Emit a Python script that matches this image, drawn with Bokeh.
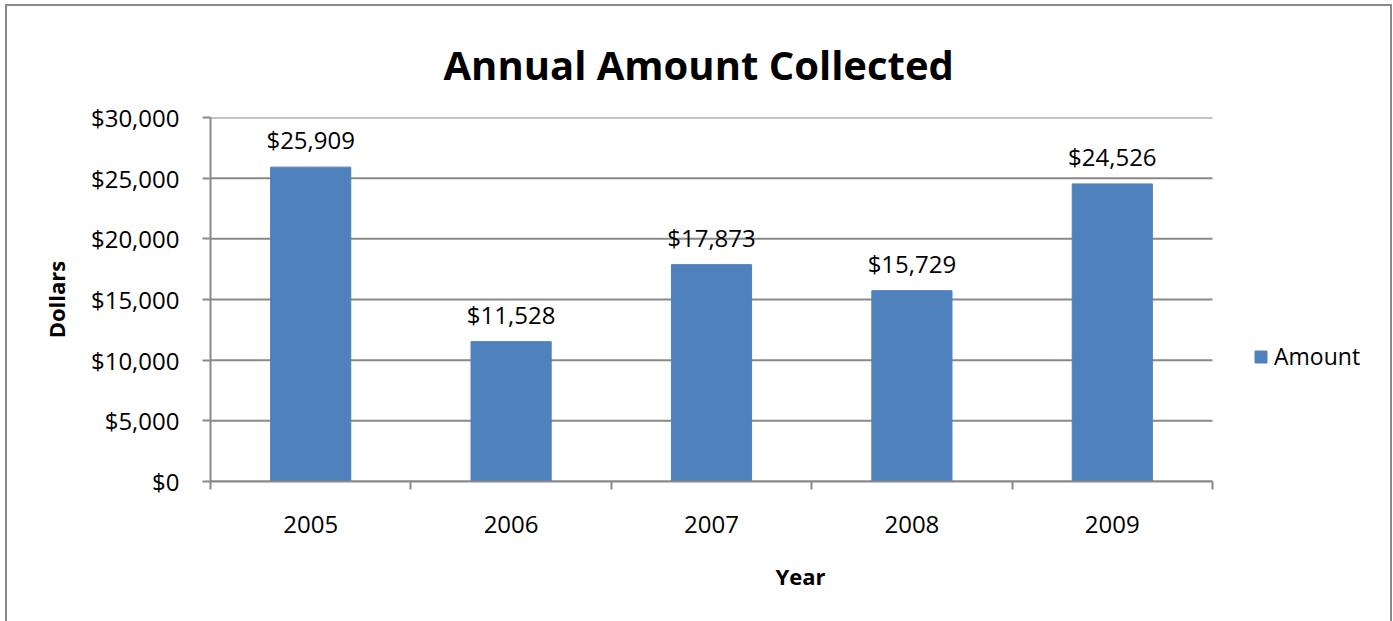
from bokeh.plotting import figure
from bokeh.models import (Range1d, FixedTicker, NumeralTickFormatter, ColumnDataSource,
                          Legend, LegendItem)
from bokeh.core.properties import value
from bokeh.embed import file_html
from bokeh.resources import INLINE

years = ["2005", "2006", "2007", "2008", "2009"]
amounts = [25909, 11528, 17873, 15729, 24526]
y_ticks = [0, 5000, 10000, 15000, 20000, 25000, 30000]

FONT = "Open Sans"
GRAY = "#898989"
BAR = "#4F81BD"

N = len(years)
xs = [i + 0.5 for i in range(N)]
src = ColumnDataSource(dict(x=xs, top=amounts, label=[f"${v:,}" for v in amounts]))

# The frame runs past the last category so the legend can sit to its right.
BAR_AREA_W = 1002
FRAME_W = 1180
p = figure(frame_width=FRAME_W, frame_height=364, output_backend="svg", toolbar_location=None,
           x_range=Range1d(0, N * FRAME_W / BAR_AREA_W), y_range=Range1d(0, 30000),
           min_border_left=203, min_border_right=0, min_border_top=111, min_border_bottom=140)
p.styles = {"margin-left": "5px", "margin-top": "4px",
            "border-left": "2px solid #898989", "border-top": "2px solid #898989",
            "border-right": "2px solid #898989"}
p.outline_line_color = None
p.background_fill_color = "white"
p.border_fill_color = "white"

p.title.text = "Annual Amount Collected"
p.title.align = "left"
p.title.text_font = FONT
p.title.text_font_size = "40px"
p.title.text_font_style = "bold"
p.title.text_color = "black"
p.title.offset = 233
p.title.standoff = 52

# horizontal gridlines across the category area only
p.segment(x0=0, x1=N, y0=y_ticks, y1=y_ticks, line_color=GRAY, line_width=2)

r = p.vbar(x="x", top="top", width=0.4, source=src, fill_color=BAR, line_color=BAR)
p.text(x="x", y="top", text="label", source=src, text_align="center", text_baseline="bottom",
       y_offset=-11, text_font=value(FONT), text_font_size="24px", text_color="black")

# y axis
p.yaxis.ticker = FixedTicker(ticks=y_ticks)
p.yaxis.formatter = NumeralTickFormatter(format="$0,0")
p.yaxis.axis_line_color = GRAY
p.yaxis.axis_line_width = 2
p.yaxis.major_tick_line_color = GRAY
p.yaxis.major_tick_line_width = 2
p.yaxis.major_tick_out = 8
p.yaxis.major_tick_in = 0
p.yaxis.minor_tick_line_color = None
p.yaxis.major_label_text_font = FONT
p.yaxis.major_label_text_font_size = "24px"
p.yaxis.major_label_text_color = "black"
p.yaxis.major_label_standoff = 23
p.yaxis.axis_label = "Dollars"
p.yaxis.axis_label_text_font = FONT
p.yaxis.axis_label_text_font_size = "22px"
p.yaxis.axis_label_text_font_style = "bold"
p.yaxis.axis_label_text_color = "black"
p.yaxis.axis_label_standoff = 17

# x axis: labels at centers, tick marks between categories
p.xaxis.bounds = (0, N)
p.xaxis.ticker = FixedTicker(ticks=xs, minor_ticks=list(range(N + 1)))
p.xaxis.major_label_overrides = {x: y for x, y in zip(xs, years)}
p.xaxis.axis_line_color = GRAY
p.xaxis.axis_line_width = 2
p.xaxis.major_tick_line_color = None
p.xaxis.minor_tick_line_color = GRAY
p.xaxis.minor_tick_line_width = 2
p.xaxis.minor_tick_out = 8
p.xaxis.minor_tick_in = 0
p.xaxis.major_label_text_font = FONT
p.xaxis.major_label_text_font_size = "24px"
p.xaxis.major_label_text_color = "black"
p.xaxis.major_label_standoff = 26
p.xaxis.axis_label = "Year"
p.xaxis.axis_label_text_font = FONT
p.xaxis.axis_label_text_font_size = "22px"
p.xaxis.axis_label_text_font_style = "bold"
p.xaxis.axis_label_text_color = "black"
p.xaxis.axis_label_standoff = 25

p.xgrid.visible = False
p.ygrid.visible = False

legend = Legend(items=[LegendItem(label="Amount", renderers=[r])],
                location=(1043, 109), orientation="vertical")
legend.label_text_font = FONT
legend.label_text_font_size = "23px"
legend.label_text_color = "black"
legend.glyph_width = 15
legend.glyph_height = 15
legend.border_line_color = None
legend.background_fill_alpha = 0
legend.padding = 4
legend.margin = 0
legend.label_standoff = 6
p.add_layout(legend)

open("out.html", "w").write(file_html(p, INLINE))
